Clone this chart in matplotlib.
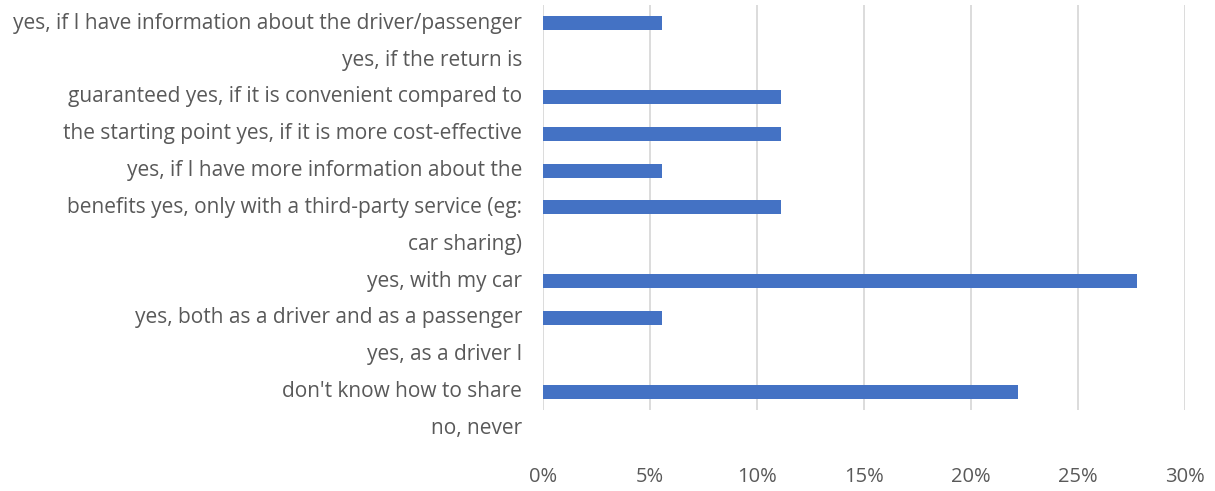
import matplotlib.pyplot as plt
import numpy as np
from matplotlib.transforms import blended_transform_factory

# wrapped label lines as they appear (12 lines, 11 bar rows)
label_lines = [
    "yes, if I have information about the driver/passenger",
    "yes, if the return is",
    "guaranteed yes, if it is convenient compared to",
    "the starting point yes, if it is more cost-effective",
    "yes, if I have more information about the",
    "benefits yes, only with a third-party service (eg:",
    "car sharing)",
    "yes, with my car",
    "yes, both as a driver and as a passenger",
    "yes, as a driver I",
    "don't know how to share",
    "no, never",
]
values = [5.56, 0, 11.11, 11.11, 5.56, 11.11, 0, 27.78, 5.56, 0, 22.22]
xticks = [0, 5, 10, 15, 20, 25, 30]

plt.rcParams['font.family'] = ['Open Sans', 'DejaVu Sans']

fig = plt.figure(figsize=(12.15, 4.91), dpi=100)
ax = fig.add_axes([0.447, 0.165, 0.528, 0.825])

pos = np.arange(len(values))
ax.barh(pos, values, height=0.38, color="#4472C4", zorder=3)
ax.set_ylim(len(values) - 0.5, -0.5)
ax.set_xlim(0, 30)
ax.set_xticks(xticks)
ax.set_xticklabels([f"{t}%" for t in xticks])
ax.set_yticks([])
ax.grid(axis='x', color="#d9d9d9", linewidth=1.3, zorder=0)
for s in ax.spines.values():
    s.set_visible(False)
ax.tick_params(axis='x', length=0, pad=41, labelsize=14.5, labelcolor="#595959")

tr = blended_transform_factory(ax.transAxes, ax.transData)
for i, lab in enumerate(label_lines):
    ax.text(-0.033, i, lab, transform=tr, ha='right', va='center',
            fontsize=15, color="#595959", clip_on=False)

fig.savefig("out.png", dpi=100)
